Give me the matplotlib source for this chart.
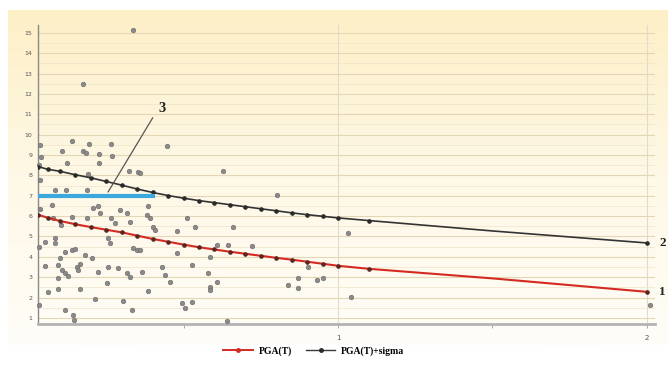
import numpy as np
import matplotlib
matplotlib.use("Agg")
import matplotlib.pyplot as plt
from matplotlib.lines import Line2D
from matplotlib.colors import LinearSegmentedColormap

# observed data (period T, PGA)
obs_T = [0.337, 0.175, 0.447, 0.628, 0.803, 1.032, 1.042, 2.010,
         0.036, 0.139, 0.194, 0.265, 0.107, 0.175, 0.184, 0.227, 0.269, 0.039,
         0.123, 0.227, 0.032, 0.324, 0.353, 0.191, 0.036, 0.084, 0.120, 0.188,
         0.074, 0.207, 0.223, 0.036, 0.294, 0.317, 0.139, 0.188, 0.265, 0.327,
         0.359, 0.385, 0.382, 0.392, 0.511, 0.401, 0.408, 0.479, 0.537, 0.278,
         0.104, 0.078, 0.230, 0.660, 0.052, 0.084, 0.084, 0.032, 0.117, 0.139,
         0.149, 0.100, 0.052, 0.094, 0.107, 0.117, 0.126, 0.155, 0.165, 0.159,
         0.181, 0.204, 0.094, 0.223, 0.256, 0.288, 0.317, 0.327, 0.252, 0.061,
         0.094, 0.165, 0.214, 0.304, 0.032, 0.117, 0.142, 0.146, 0.333, 0.256,
         0.262, 0.337, 0.350, 0.359, 0.479, 0.586, 0.608, 0.644, 0.430, 0.440,
         0.456, 0.366, 0.528, 0.579, 0.586, 0.586, 0.608, 0.385, 0.495, 0.505,
         0.528, 0.641, 0.722, 0.838, 0.871, 0.871, 0.903, 0.932, 0.951]
obs_PGA = [15.15, 12.49, 9.45, 8.22, 7.04, 5.17, 2.03, 1.64,
           9.50, 9.69, 9.55, 9.55, 9.20, 9.20, 9.10, 9.06, 8.96, 8.91,
           8.61, 8.61, 8.51, 8.22, 8.17, 8.07, 7.78, 7.29, 7.29, 7.29,
           6.55, 6.40, 6.50, 6.35, 6.30, 6.16, 5.96, 5.91, 5.91, 5.72,
           8.12, 6.50, 6.06, 5.91, 5.91, 5.47, 5.32, 5.27, 5.47, 5.67,
           5.57, 5.91, 6.16, 5.47, 4.73, 4.93, 4.68, 4.49, 4.24, 4.34,
           4.39, 3.95, 3.55, 3.60, 3.36, 3.21, 3.06, 3.50, 3.65, 3.36,
           4.09, 3.95, 2.96, 3.26, 3.50, 3.46, 3.21, 3.01, 2.72, 2.28,
           2.42, 2.42, 1.93, 1.83, 1.64, 1.39, 1.15, 0.90, 1.39, 4.93,
           4.68, 4.44, 4.34, 4.34, 4.19, 3.99, 4.59, 4.59, 3.50, 3.11,
           2.77, 3.26, 3.60, 3.21, 2.52, 2.38, 2.77, 2.33, 1.74, 1.49,
           1.79, 0.85, 4.54, 2.62, 2.96, 2.47, 3.50, 2.87, 2.96]

# model curves
T_curve = [0.03, 0.06, 0.1, 0.15, 0.2, 0.25, 0.3, 0.35, 0.4, 0.45, 0.5, 0.55,
           0.6, 0.65, 0.7, 0.75, 0.8, 0.85, 0.9, 0.95, 1.0, 1.1, 1.5, 2.0]
pga_T = [6.06, 5.92, 5.76, 5.60, 5.46, 5.33, 5.20, 5.04, 4.88, 4.74, 4.60, 4.47,
         4.36, 4.25, 4.15, 4.05, 3.95, 3.86, 3.76, 3.66, 3.56, 3.41, 2.94, 2.28]
pga_sigma = [8.43, 8.30, 8.20, 8.03, 7.88, 7.70, 7.52, 7.33, 7.16, 7.01, 6.88, 6.76,
             6.66, 6.56, 6.46, 6.36, 6.26, 6.16, 6.07, 5.99, 5.91, 5.78, 5.27, 4.68]
marks = [i for i in range(len(T_curve)) if T_curve[i] != 1.5]

# constant level (curve 3)
T_flat = [0.03, 0.40]
pga_flat = [7.0, 7.0]

fig = plt.figure(figsize=(6.68, 3.65), dpi=100)
fig.patch.set_facecolor("white")

# pale yellow background
bg = fig.add_axes([8/668, 1-345/365, 660/668, 335/365], zorder=0)
cmap = LinearSegmentedColormap.from_list("bgc", ["#fdefc6", "#fef8e6", "#fffdf8"])
grad = np.linspace(0, 1, 256).reshape(-1, 1)
bg.imshow(grad, aspect="auto", cmap=cmap, extent=[0, 1, 0, 1])
bg.axis("off")

ax = fig.add_axes([38/668, 1-324/365, 617/668, 299.3/365], zorder=1)
ax.patch.set_alpha(0)

ax.set_xlim(0.029, 2.026)
ax.set_ylim(0.7, 15.4)

ax.set_yticks(range(1, 16))
ax.set_yticks(np.arange(1.5, 15.5, 1), minor=True)
ax.set_xticks([1, 2])
ax.set_xticks([0.5, 1.5], minor=True)
ax.grid(True, which="major", axis="y", color="#e2d6b4", lw=0.8)
ax.grid(True, which="minor", axis="y", color="#eee4c8", lw=0.5)
ax.grid(True, which="major", axis="x", color="#e0dccc", lw=0.8)
ax.tick_params(axis="y", which="both", length=0, labelsize=4.5, labelcolor="#555555", pad=4)
ax.tick_params(axis="x", which="major", length=3, width=0.6, color="#999999",
               labelsize=5, labelcolor="#555555", pad=5)
ax.tick_params(axis="x", which="minor", length=3, width=0.6, color="#999999")

for s in ["top", "right"]:
    ax.spines[s].set_visible(False)
ax.spines["left"].set_color("#8a8a8a")
ax.spines["left"].set_linewidth(1.0)
ax.spines["bottom"].set_color("#b4b4b4")
ax.spines["bottom"].set_linewidth(2.0)

ax.scatter(obs_T, obs_PGA, s=11, color="#8a8a8a", edgecolors="#6a6a6a",
           linewidths=0.4, zorder=3, clip_on=False)

ax.plot(T_curve, pga_sigma, "-", color="#333333", lw=1.2, marker="o", ms=2.3,
        mfc="#2a2a2a", mec="#2a2a2a", markevery=marks, zorder=4)
ax.plot(T_curve, pga_T, "-", color="#d42a22", lw=1.5, marker="o", ms=2.3,
        mfc="#5a2525", mec="#5a2525", markevery=marks, zorder=4)
ax.plot(T_flat, pga_flat, "-", color="#3da8dc", lw=3, zorder=5)

ax.plot([0.40, 0.256], [10.82, 7.19], "-", color="#555555", lw=0.9, zorder=6)
ax.text(0.43, 11.3, "3", fontsize=10.5, fontweight="bold", family="Liberation Serif",
        ha="center", va="center", color="#222222")
ax.text(2.05, 4.7, "2", fontsize=9.5, fontweight="bold", family="Liberation Serif",
        ha="center", va="center", color="#222222", clip_on=False)
ax.text(2.05, 2.25, "1", fontsize=9.5, fontweight="bold", family="Liberation Serif",
        ha="center", va="center", color="#222222", clip_on=False)

handles = [Line2D([0], [0], color="#d42a22", lw=1.4, marker="o", ms=2.5,
                  mfc="#d42a22", mec="#d42a22"),
           Line2D([0], [0], color="#3a3a3a", lw=1.0, marker="o", ms=2.5,
                  mfc="#2a2a2a", mec="#2a2a2a")]
fig.legend(handles, ["PGA(T)", "PGA(T)+sigma"], loc="center",
           bbox_to_anchor=(0.47, 1-351/365), ncol=2, frameon=False,
           prop={"family": "Liberation Serif", "weight": "bold", "size": 7},
           handlelength=3, columnspacing=1.5, handletextpad=0.6)

fig.savefig("out.png", dpi=100)
